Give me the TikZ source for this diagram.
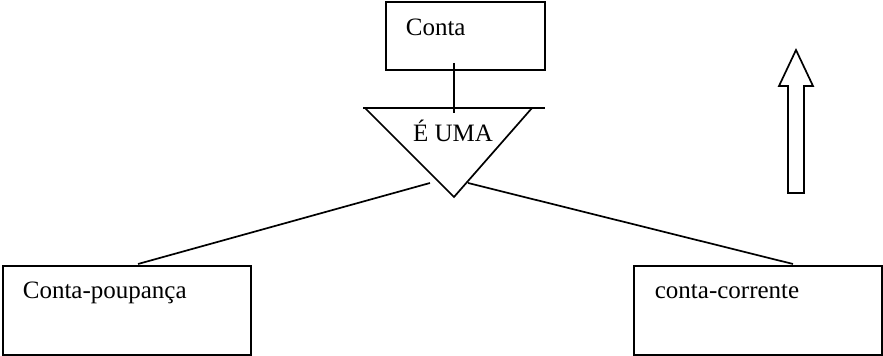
\documentclass[tikz,border=0pt]{standalone}
\usepackage{fontspec}
\setmainfont{Liberation Serif}
\begin{document}
\begin{tikzpicture}[x=0.5pt, y=-0.5pt, line width=0.85pt,
  caixa/.style={draw, rectangle, inner sep=0pt},
  texto/.style={anchor=base west, inner sep=0pt, font=\fontsize{12.5}{15}\selectfont}]
\useasboundingbox (0,0) rectangle (883,356);
\node[caixa, minimum width=79.5pt, minimum height=34pt] (conta) at (465.5,36){};
\node[texto] (tconta) at (405,36){Conta};
\node[caixa, minimum width=124pt, minimum height=44.5pt] (poup) at (127,310.5){};
\node[texto] (tpoup) at (22,299){Conta-poupança};
\node[caixa, minimum width=124pt, minimum height=44.5pt] (corr) at (758,310.5){};
\node[texto] (tcorr) at (654,299){conta-corrente};
\coordinate (t0) at (363,108);
\coordinate (t1) at (545,108);
\coordinate (tl) at (365,108);
\coordinate (tr) at (532,108);
\coordinate (tb) at (454,197);
\draw[](t0) -- (t1);
\draw[](tl) -- (tb) -- (tr);
\node[texto, anchor=base] (euma) at (453,142){É UMA};
\coordinate (c0) at (454,63);
\coordinate (c1) at (454,113);
\draw[](c0) -- (c1);
\coordinate (e0) at (430,183);
\coordinate (e1) at (138,264);
\draw[](e0) -- (e1);
\coordinate (d0) at (468,183);
\coordinate (d1) at (793,264);
\draw[](d0) -- (d1);
\coordinate (a0) at (796,50);
\coordinate (a1) at (813,86);
\coordinate (a2) at (804,86);
\coordinate (a3) at (804,193);
\coordinate (a4) at (788,193);
\coordinate (a5) at (788,86);
\coordinate (a6) at (779,86);
\draw[line join=miter](a0) -- (a1) -- (a2) -- (a3) -- (a4) -- (a5) -- (a6) -- cycle;
\end{tikzpicture}
\end{document}
